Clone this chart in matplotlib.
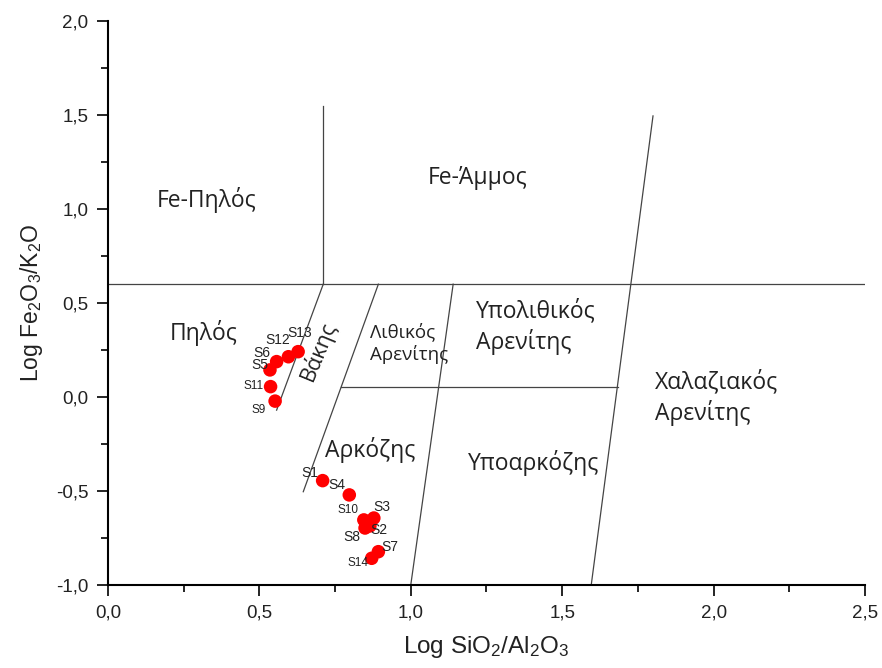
import matplotlib
matplotlib.use("Agg")
import matplotlib.pyplot as plt
from matplotlib.ticker import MultipleLocator, FuncFormatter

plt.rcParams["mathtext.fontset"] = "custom"
plt.rcParams["mathtext.rm"] = "Liberation Sans"
plt.rcParams["mathtext.it"] = "Liberation Sans:italic"
plt.rcParams["mathtext.bf"] = "Liberation Sans:bold"

# Sample data (Log SiO2/Al2O3, Log Fe2O3/K2O)
samples = ["S13", "S12", "S6", "S5", "S11", "S9", "S1", "S4", "S10", "S3", "S2", "S8", "S7", "S14"]
log_si_al = [0.628, 0.596, 0.557, 0.535, 0.537, 0.552, 0.709, 0.797, 0.845, 0.878, 0.865, 0.849, 0.893, 0.871]
log_fe_k = [0.241, 0.214, 0.188, 0.144, 0.055, -0.022, -0.445, -0.521, -0.654, -0.644, -0.686, -0.697, -0.823, -0.858]
label_x = [0.634, 0.562, 0.508, 0.500, 0.480, 0.496, 0.667, 0.755, 0.794, 0.904, 0.896, 0.805, 0.931, 0.827]
label_y = [0.339, 0.303, 0.236, 0.170, 0.059, -0.069, -0.406, -0.468, -0.601, -0.583, -0.707, -0.746, -0.796, -0.881]
label_size = [10, 10, 10, 10, 8.5, 8.5, 10, 10, 8.5, 10, 10, 10, 10, 8.5]

# Classification boundaries (Herron 1988)
boundaries = [
    ([0.0, 2.5], [0.6, 0.6]),
    ([0.711, 0.711], [0.6, 1.548]),
    ([0.711, 0.557], [0.6, -0.07]),
    ([0.893, 0.645], [0.6, -0.504]),
    ([0.77, 1.684], [0.053, 0.053]),
    ([1.14, 1.0], [0.6, -1.0]),
    ([1.80, 1.596], [1.495, -1.0]),
]

regions = [
    ("Fe-Πηλός", 0.327, 1.048, 16.5, 0),
    ("Fe-Άμμος", 1.222, 1.165, 16.5, 0),
    ("Πηλός", 0.317, 0.340, 16.5, 0),
    ("Βάκης", 0.694, 0.245, 15.5, 67.6),
    ("Λιθικός\nΑρενίτης", 0.994, 0.285, 13.5, 0),
    ("Υπολιθικός\nΑρενίτης", 1.414, 0.372, 16.5, 0),
    ("Χαλαζιακός\nΑρενίτης", 2.01, -0.005, 16.5, 0),
    ("Αρκόζης", 0.865, -0.282, 16.5, 0),
    ("Υποαρκόζης", 1.404, -0.351, 16.5, 0),
]

fig = plt.figure(figsize=(8.82, 6.68), dpi=100)
ax = fig.add_axes([0.1224, 0.1243, 0.8583, 0.8443])

for xs, ys in boundaries:
    ax.plot(xs, ys, color="#444444", lw=0.9, zorder=1)

ax.scatter(log_si_al, log_fe_k, s=95, color="#ff0000", edgecolors="none", zorder=3)
for name, lx, ly, fs in zip(samples, label_x, label_y, label_size):
    ax.text(lx, ly, name, fontsize=fs, ha="center", va="center",
            family="Liberation Sans", color="#222222", zorder=4)

for txt, x, y, fs, rot in regions:
    ax.text(x, y, txt, fontsize=fs, ha="center", va="center", rotation=rot,
            family="Open Sans", color="#222222", linespacing=1.25,
            multialignment="left", zorder=2)

ax.set_xlim(0, 2.5)
ax.set_ylim(-1.0, 2.0)
ax.xaxis.set_major_locator(MultipleLocator(0.5))
ax.xaxis.set_minor_locator(MultipleLocator(0.25))
ax.yaxis.set_major_locator(MultipleLocator(0.5))
ax.yaxis.set_minor_locator(MultipleLocator(0.25))
fmt = FuncFormatter(lambda v, p: f"{v:.1f}".replace(".", ","))
ax.xaxis.set_major_formatter(fmt)
ax.yaxis.set_major_formatter(fmt)

for s in ["top", "right"]:
    ax.spines[s].set_visible(False)
for s in ["left", "bottom"]:
    ax.spines[s].set_linewidth(1.5)
    ax.spines[s].set_color("black")

ax.tick_params(which="major", direction="out", length=8, width=1.2, labelsize=13.5, pad=6)
ax.tick_params(which="minor", direction="out", length=5, width=1.2)
for lab in ax.get_xticklabels() + ax.get_yticklabels():
    lab.set_family("Liberation Sans")
    lab.set_color("#222222")

ax.set_xlabel("Log SiO$_2$/Al$_2$O$_3$", fontsize=17.5, family="Liberation Sans", labelpad=9, color="#222222")
ax.set_ylabel("Log Fe$_2$O$_3$/K$_2$O", fontsize=16.5, family="Liberation Sans", labelpad=8, color="#222222")

fig.savefig("out.png", dpi=100)
